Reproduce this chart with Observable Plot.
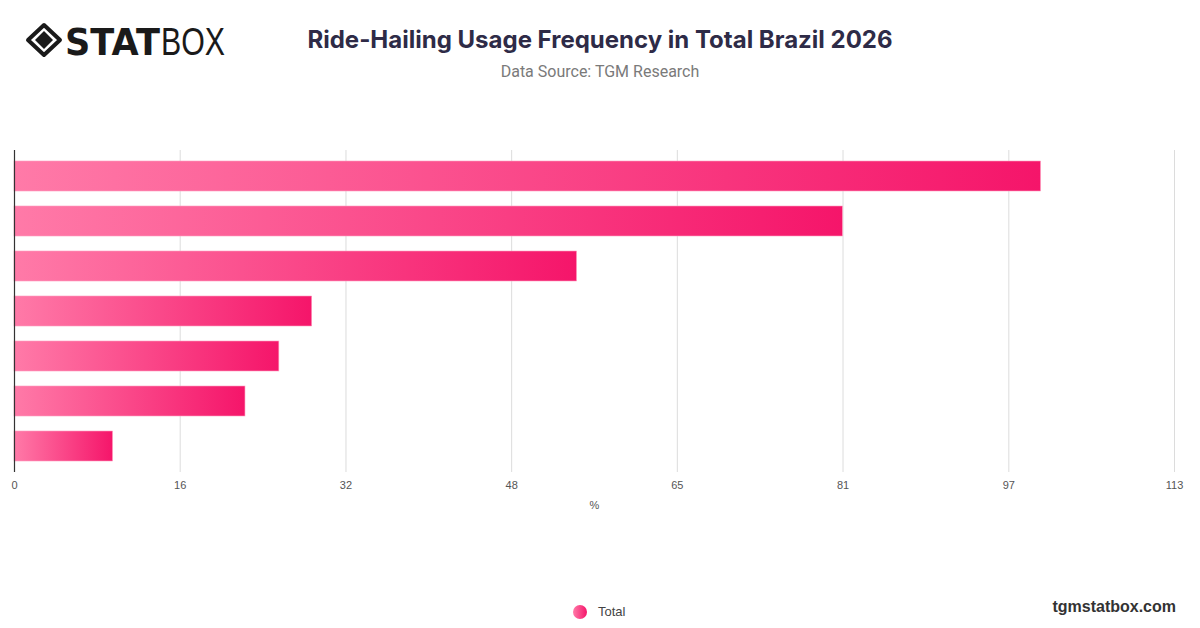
<!DOCTYPE html>
<html><head><meta charset="utf-8">
<script src="https://cdn.jsdelivr.net/npm/d3@7"></script>
<script src="https://cdn.jsdelivr.net/npm/@observablehq/plot@0.6"></script>
<style>
body{margin:0;width:1200px;height:628px;background:#fff;position:relative;overflow:hidden;font-family:"Liberation Sans",Arial,sans-serif}
#logo{position:absolute;left:24px;top:15px}
#title{position:absolute;top:24px;left:0;width:1200px;text-align:center;font-family:Inter,"Noto Sans",sans-serif;font-weight:700;font-size:24px;color:#2e2b47;line-height:32px}
#subtitle{position:absolute;top:61px;left:0;width:1200px;text-align:center;font-family:Roboto,"Liberation Sans",sans-serif;font-size:16px;color:#7a7a7a;line-height:22px}
#chart{position:absolute;left:0;top:100px}
#legend{position:absolute;top:604px;left:573px;display:flex;align-items:center;font-family:"Liberation Sans",Arial,sans-serif;font-size:13px;color:#444}
#legend .dot{width:14px;height:14px;border-radius:50%;background:linear-gradient(90deg,#ff7aa8,#f5156a);margin-right:11px}
#site{position:absolute;right:24px;top:598px;font-family:"Liberation Sans",Arial,sans-serif;font-weight:700;font-size:16px;color:#333}
</style></head>
<body>
<div id="logo">
<svg width="230" height="50" viewBox="0 0 230 50">
  <path d="M20 10 L36 25 L20 40 L4 25 Z" fill="none" stroke="#1a1a1a" stroke-width="4" stroke-linejoin="round"/>
  <path d="M20 16 L29 25 L20 34 L11 25 Z" fill="#1a1a1a"/>
  <text x="41" y="40" font-family="'DejaVu Sans',sans-serif" font-weight="900" font-size="38" fill="#1a1a1a" textLength="95" lengthAdjust="spacingAndGlyphs">STAT</text>
  <text x="137" y="40" font-family="'Liberation Sans',sans-serif" font-weight="400" font-size="39" fill="#1a1a1a" textLength="64" lengthAdjust="spacingAndGlyphs">BOX</text>
</svg>
</div>
<div id="title">Ride-Hailing Usage Frequency in Total Brazil 2026</div>
<div id="subtitle">Data Source: TGM Research</div>
<div id="chart"></div>
<div id="legend"><span class="dot"></span><span>Total</span></div>
<div id="site">tgmstatbox.com</div>
<script>
const categories = ["Ever used","At least once a month","At least 2-3 times a month","At least once a week","2-3 times a week","4-6 times a week","Daily"];
const values = [100, 80.7, 54.8, 29.0, 25.8, 22.5, 9.6];
const tickValues = [0, 16.14, 32.29, 48.43, 64.57, 80.71, 96.86, 113];
const tickLabels = ["0", "16", "32", "48", "65", "81", "97", "113"];
const data = categories.map((c, i) => ({category: c, value: values[i]}));

const chart = Plot.plot({
  width: 1200, height: 430,
  marginLeft: 14, marginRight: 26, marginTop: 50, marginBottom: 58,
  style: {fontSize: "11px", fontFamily: "'Liberation Sans', Arial, sans-serif", color: "#555", background: "transparent"},
  x: {domain: [0, 113], ticks: tickValues, tickFormat: d => tickLabels[tickValues.indexOf(d)], tickSize: 0, tickPadding: 9,
      label: "%", labelAnchor: "center", labelArrow: "none", labelOffset: 36},
  y: {domain: categories, axis: null, paddingInner: 0.324, paddingOuter: 0.175},
  marks: [
    Plot.gridX(tickValues.slice(1), {stroke: "#dcdcdc", strokeOpacity: 1}),
    Plot.barX(data, {x: "value", y: "category", fill: "url(#barGrad)", stroke: "#ff9fc0", strokeWidth: 0.6}),
    Plot.ruleX([0], {stroke: "#333", strokeWidth: 1.2})
  ]
});
const defs = d3.select(chart).insert("defs", ":first-child");
const g = defs.append("linearGradient").attr("id", "barGrad").attr("x1", 0).attr("x2", 1).attr("y1", 0).attr("y2", 0);
g.append("stop").attr("offset", "0%").attr("stop-color", "#ff7aa8");
g.append("stop").attr("offset", "100%").attr("stop-color", "#f5156a");
document.getElementById("chart").appendChild(chart);
</script>
</body></html>
